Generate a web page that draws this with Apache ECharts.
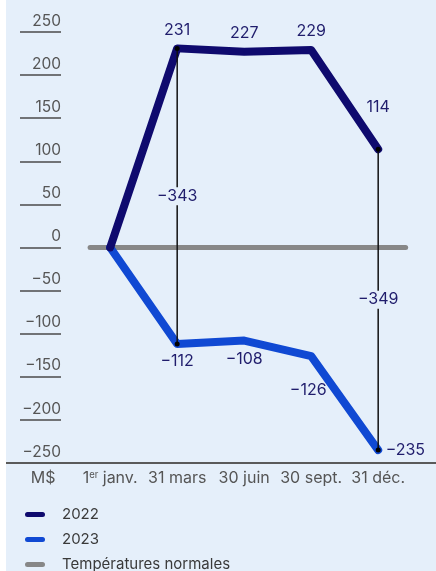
<!DOCTYPE html>
<html><head><meta charset="utf-8">
<script src="https://cdn.jsdelivr.net/npm/echarts@6/dist/echarts.min.js"></script>
<style>html,body{margin:0;padding:0;background:#fff;overflow:hidden;} #c{position:absolute;left:6px;top:0;width:430px;height:620px;}</style>
</head><body><div id="c"></div>
<script>
// ---- data ----
const categories = ["1er janv.", "31 mars", "30 juin", "30 sept.", "31 déc."];
const unitLabel = "M$";
const values2022 = [0, 231, 227, 229, 114];
const values2023 = [0, -112, -108, -126, -235];
const normals = [0, 0, 0, 0, 0];
const seriesNames = ["2022", "2023", "Températures normales"];
const diffIndices = [1, 4];
const yMin = -250, yMax = 250, yStep = 50;

// ---- style ----
const BG = '#e5effa';
const NAVY = '#0f0a6e';
const BLUE = '#1049d3';
const GRAY = '#878787';
const LABEL = '#201d6c';
const AXIS = '#555555';
const FONT = 'Inter, "Noto Sans", sans-serif';
const fmt = v => String(v).replace('-', '\u2212');
const H = 620, GRID_TOP = 32, GRID_BOTTOM = H - 463;

const n = categories.length;
const xMin = -1.555, xMax = n - 1 + 0.863;

const lab2022 = [null,
  {position: 'top', distance: 10},
  {position: 'top', distance: 10},
  {position: 'top', distance: 10},
  {position: 'top', distance: 34}];
const lab2023 = [null,
  {position: 'bottom', distance: 9},
  {position: 'bottom', distance: 10},
  {position: 'bottom', distance: 26, offset: [-3, 0]},
  {position: 'right', distance: 7}];

function mkData(vals, labs) {
  return vals.map((v, i) => ({
    value: [i, v],
    label: labs[i] ? Object.assign({show: true, formatter: fmt(v)}, labs[i]) : {show: false}
  }));
}

const labelText = {color: LABEL, fontSize: 16, fontFamily: FONT};

const series = [
  {
    name: seriesNames[2], type: 'line', xAxisIndex: 0, yAxisIndex: 0,
    data: [[-0.3, normals[0]]].concat(normals.map((v, i) => [i, v])).concat([[n - 1 + 0.41, normals[n - 1]]]),
    showSymbol: false, symbol: 'none', color: GRAY,
    lineStyle: {color: GRAY, width: 5, cap: 'round', join: 'round'}, z: 2
  },
  {
    name: seriesNames[1], type: 'line', xAxisIndex: 0, yAxisIndex: 0,
    data: mkData(values2023, lab2023), symbol: 'circle', symbolSize: 1, showSymbol: true,
    color: BLUE, itemStyle: {color: BLUE},
    lineStyle: {color: BLUE, width: 8, cap: 'round', join: 'round'},
    label: labelText, z: 3
  },
  {
    name: seriesNames[0], type: 'line', xAxisIndex: 0, yAxisIndex: 0,
    data: mkData(values2022, lab2022), symbol: 'circle', symbolSize: 1, showSymbol: true,
    color: NAVY, itemStyle: {color: NAVY},
    lineStyle: {color: NAVY, width: 8, cap: 'round', join: 'round'},
    label: labelText, z: 4
  }
];

diffIndices.forEach(i => {
  const a = values2022[i], b = values2023[i];
  series.push({
    type: 'line', xAxisIndex: 0, yAxisIndex: 0,
    data: [[i, a], [i, b]], symbol: 'circle', symbolSize: 5, showSymbol: true,
    itemStyle: {color: '#000'}, lineStyle: {color: '#111', width: 1.5}, z: 5, silent: true
  });
  series.push({
    type: 'scatter', xAxisIndex: 0, yAxisIndex: 0, symbolSize: 0,
    itemStyle: {opacity: 1},
    data: [[i, (a + b) / 2]], z: 6, silent: true,
    label: {show: true, position: 'inside', formatter: fmt(b - a), color: LABEL, fontSize: 16, fontFamily: FONT,
      backgroundColor: BG, padding: [1, 1]}
  });
});

const xLabelValues = [-1].concat(categories.map((c, i) => i));

const chart = echarts.init(document.getElementById('c'), null, {renderer: 'canvas'});
chart.setOption({
  animation: false,
  backgroundColor: BG,
  textStyle: {fontFamily: FONT},
  grid: [
    {left: 0, right: 0, top: GRID_TOP, bottom: GRID_BOTTOM},
    {left: 14, width: 41, top: GRID_TOP, bottom: GRID_BOTTOM}
  ],
  xAxis: [
    {type: 'value', gridIndex: 0, min: xMin, max: xMax,
      axisLine: {show: true, onZero: false, lineStyle: {color: '#5a5a5a', width: 2}},
      axisTick: {show: false}, splitLine: {show: false},
      axisLabel: {show: true, customValues: xLabelValues, margin: 7, color: AXIS, fontSize: 16, fontFamily: FONT,
        formatter: v => {
          if (v === -1) return unitLabel;
          const s = categories[v];
          if (s == null) return '';
          if (s.indexOf('1er') === 0) return '1{sup|er}' + s.slice(3);
          return s;
        },
        rich: {sup: {fontSize: 9.5, color: AXIS, fontFamily: FONT, verticalAlign: 'top', padding: [0, 0, 7, 0]}}
      }},
    {type: 'value', gridIndex: 1, show: false}
  ],
  yAxis: [
    {type: 'value', gridIndex: 0, min: yMin, max: yMax, interval: yStep, show: false},
    {type: 'value', gridIndex: 1, min: yMin, max: yMax, interval: yStep, position: 'right',
      axisLine: {show: false}, axisTick: {show: false},
      splitLine: {show: true, lineStyle: {color: '#4a4a4a', width: 1.5}},
      axisLabel: {inside: true, margin: 0, align: 'right', verticalAlign: 'bottom', padding: [0, 0, 3, 0],
        color: AXIS, fontSize: 15.5, fontFamily: FONT, formatter: fmt}}
  ],
  legend: {
    orient: 'vertical', left: 14, top: 501,
    data: seriesNames.map(s => ({name: s})),
    icon: 'path://M2.5,0 H17.5 A2.5,2.5 0 0 1 17.5,5 H2.5 A2.5,2.5 0 0 1 2.5,0 Z',
    itemWidth: 20, itemHeight: 5, itemGap: 8,
    textStyle: {color: '#3a3a3a', fontSize: 15, fontFamily: FONT, lineHeight: 17, padding: [0, 0, 0, 12]},
    selectedMode: false
  },
  series: series
});
</script>
</body></html>
